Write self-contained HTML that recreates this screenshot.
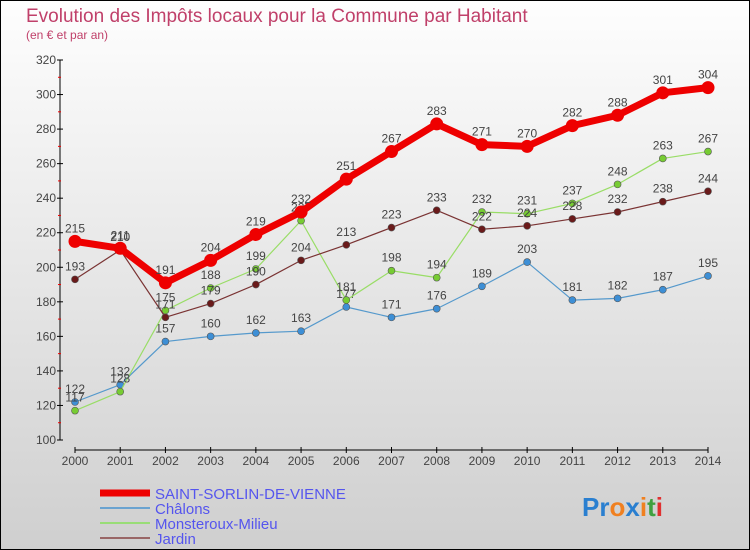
<!DOCTYPE html>
<html><head><meta charset="utf-8"><style>
body{margin:0;}
#c{width:750px;height:550px;position:relative;overflow:hidden;}
svg text{font-family:"Liberation Sans",sans-serif;}
</style></head><body>
<div id="c">
<svg id="s" width="750" height="550" xmlns="http://www.w3.org/2000/svg">
<defs><linearGradient id="bg" x1="0" y1="0" x2="0" y2="1"><stop offset="0" stop-color="#fefefe"/><stop offset="1" stop-color="#cfcfcf"/></linearGradient></defs>
<rect x="0.5" y="0.5" width="749" height="549" fill="url(#bg)" stroke="#000"/>
<text x="26" y="22" font-size="19" fill="#c0406a">Evolution des Impôts locaux pour la Commune par Habitant</text>
<text x="26" y="39" font-size="12" fill="#c0406a">(en € et par an)</text>
<g id="axes"></g>
<g id="series"></g>
<g>
<line x1="100" y1="493" x2="150" y2="493" stroke="#e00" stroke-width="7"/>
<text x="155" y="499" font-size="15" fill="#5555ee">SAINT-SORLIN-DE-VIENNE</text>
<line x1="100" y1="508" x2="150" y2="508" stroke="#6aa3d0" stroke-width="2"/>
<text x="155" y="514" font-size="15" fill="#5555ee">Châlons</text>
<line x1="100" y1="523" x2="150" y2="523" stroke="#99dd77" stroke-width="2"/>
<text x="155" y="529" font-size="15" fill="#5555ee">Monsteroux-Milieu</text>
<line x1="100" y1="538" x2="150" y2="538" stroke="#996666" stroke-width="2"/>
<text x="155" y="544" font-size="15" fill="#5555ee">Jardin</text>
</g>
<text x="582" y="516" font-size="26" font-weight="bold"><tspan fill="#2a7fd0">Pr</tspan><tspan fill="#f08020">o</tspan><tspan fill="#2a7fd0">x</tspan><tspan fill="#f08020">i</tspan><tspan fill="#40a040">t</tspan><tspan fill="#e03030">i</tspan></text>
</svg></div>
<script>
const years=[2000,2001,2002,2003,2004,2005,2006,2007,2008,2009,2010,2011,2012,2013,2014];
const saint=[215,211,191,204,219,232,251,267,283,271,270,282,288,301,304];
const chalons=[122,132,157,160,162,163,177,171,176,189,203,181,182,187,195];
const monst=[117,128,175,188,199,227,181,198,194,232,231,237,248,263,267];
const jardin=[193,210,171,179,190,204,213,223,233,222,224,228,232,238,244];
const yTicks=[100,120,140,160,180,200,220,240,260,280,300,320];
const NS="http://www.w3.org/2000/svg";
function X(i){return 75+i*(708-75)/(years.length-1);}
function Y(v){return 440-(v-100)*380/220;}
function mk(t,a,p){const e=document.createElementNS(NS,t);for(const k in a)e.setAttribute(k,a[k]);p.appendChild(e);return e;}
const ax=document.getElementById('axes');
let yl=mk('line',{x1:60,y1:Y(320),x2:60,y2:440,stroke:'#000'},ax);


yTicks.forEach(v=>{
 mk('line',{x1:57,x2:63,y1:Y(v),y2:Y(v),stroke:'#000'},ax);
 if(v<320) mk('line',{x1:58,x2:61,y1:Y(v+10),y2:Y(v+10),stroke:'#e00'},ax);
 const t=mk('text',{x:56,y:Y(v)+4,'font-size':12,fill:'#444','text-anchor':'end'},ax);
 t.textContent=v;
 
 
});
let xl=mk('line',{x1:75,y1:450,x2:708,y2:450,stroke:'#000'},ax);


years.forEach((y,i)=>{
 mk('line',{x1:X(i),x2:X(i),y1:447,y2:453,stroke:'#000'},ax);
 const t=mk('text',{x:X(i),y:465,'font-size':12,fill:'#444','text-anchor':'middle'},ax);
 t.textContent=y;
 
 
});
const sg=document.getElementById('series');
function draw(data,color,w,r,mc,name){
 const g=mk('g',{},sg);
 
 
 const l=mk('polyline',{points:data.map((v,i)=>X(i)+','+Y(v)).join(' '),fill:'none',stroke:color,'stroke-width':w,'stroke-linejoin':'round'},g);
 
 
 data.forEach((v,i)=>{
  const c=mk('circle',{cx:X(i),cy:Y(v),r:r,fill:mc,stroke:w>3?color:'#555','stroke-width':w>3?0:0.6},g);
  
  
  const t=mk('text',{x:X(i),y:Y(v)-9,'font-size':12,fill:'#444','text-anchor':'middle'},g);
  t.textContent=v;
  
  
 });
}
draw(chalons,'#5599cc',1.2,3.5,'#3d8fd6','chalons');
draw(monst,'#99dd66',1.2,3.5,'#77cc33','monsteroux');
draw(jardin,'#7a3333',1.2,3.5,'#6a1a1a','jardin');
draw(saint,'#ee0000',7,6.5,'#ee0000','saint-sorlin');
</script>
</body></html>
